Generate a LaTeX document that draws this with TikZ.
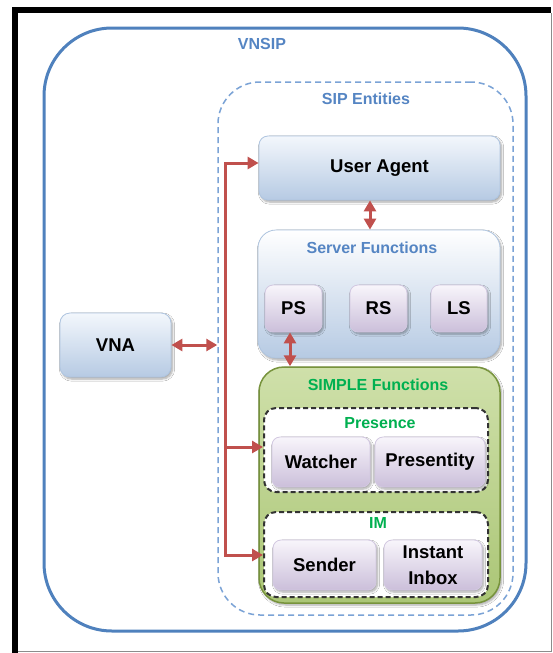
\documentclass[tikz,border=0pt]{standalone}
\usepackage{fontspec}
\setmainfont{Liberation Sans}
\usetikzlibrary{arrows.meta,shadows,shadows.blur}

\definecolor{frameblue}{HTML}{4F81BD}
\definecolor{dashblue}{HTML}{7BA3D6}
\definecolor{labelblue}{HTML}{5585C3}
\definecolor{labelgreen}{HTML}{00B050}
\definecolor{bluetop}{HTML}{F3F7FC}
\definecolor{bluebot}{HTML}{B6CAE3}
\definecolor{blueedge}{HTML}{AFC5E0}
\definecolor{lavtop}{HTML}{F8F5FB}
\definecolor{lavbot}{HTML}{CBBFDA}
\definecolor{lavedge}{HTML}{D2C8E1}
\definecolor{greentop}{HTML}{CFE0AA}
\definecolor{greenmid}{HTML}{9BBB59}
\definecolor{greenbot}{HTML}{ABC676}
\definecolor{greenedge}{HTML}{77933C}
\definecolor{linkred}{HTML}{C0504D}

\begin{document}
\begin{tikzpicture}[x=1pt,y=-1pt,
  >={Triangle[length=11pt,width=12pt]},
  nodefont/.style={font=\bfseries\fontsize{18.5}{26}\selectfont},
  softshadow/.style={blur shadow={shadow xshift=1.5pt,shadow yshift=-2pt,shadow blur steps=6,shadow opacity=35}},
  bluebox/.style={draw=blueedge,line width=0.8pt,rounded corners=9pt,top color=bluetop,bottom color=bluebot,softshadow,nodefont,inner sep=0pt},
  lavbox/.style={draw=lavedge,line width=0.8pt,rounded corners=8pt,top color=lavtop,bottom color=lavbot,softshadow,nodefont,inner sep=0pt,align=center},
  groupbox/.style={draw=black!80,dashed,dash pattern=on 5pt off 3pt,line width=2pt,rounded corners=12pt,fill=white,inner sep=0pt},
  bluelabel/.style={text=labelblue,font=\bfseries\fontsize{16}{18}\selectfont,inner sep=0pt},
  greenlabel/.style={text=labelgreen,font=\bfseries\fontsize{16}{18}\selectfont,inner sep=0pt},
  link/.style={draw=linkred,line width=3pt}
]
\useasboundingbox (0,0) rectangle (552,653);
\fill[white] (0,0) rectangle (552,653);

% window frame
\fill[black] (12,7) rectangle (551,13);
\fill[black] (12,7) rectangle (18,653);
\draw[black!45,line width=1pt] (551,13) -- (551,651) -- (18,651);

% outer domain and SIP entities container
\node[draw=frameblue,line width=3pt,rounded corners=68pt,minimum width=482pt,minimum height=603pt,inner sep=0pt] (vnsip) at (285,329.5) {};
\node[bluelabel] (vnsipLbl) at (262,44) {VNSIP};
\node[draw=dashblue,dashed,dash pattern=on 6pt off 4pt,line width=1.5pt,rounded corners=42pt,minimum width=295pt,minimum height=533pt,inner sep=0pt] (sip) at (365.5,348.5) {};
\node[bluelabel] (sipLbl) at (366,99) {SIP Entities};

% user agent
\node[bluebox,minimum width=241pt,minimum height=64pt] (ua) at (379.5,168) {User Agent};

% server functions
\node[bluebox,rounded corners=18pt,top color=white,bottom color=bluebot,minimum width=242pt,minimum height=128pt] (sf) at (379,294) {};
\node[bluelabel] (sfLbl) at (372,248) {Server Functions};
\node[lavbox,minimum width=57pt,minimum height=47pt] (ps) at (293.5,308.5) {PS};
\node[lavbox,minimum width=57pt,minimum height=47pt] (rs) at (378.5,308.5) {RS};
\node[lavbox,minimum width=56pt,minimum height=47pt] (ls) at (459,308.5) {LS};

% SIMPLE functions
\node[draw=greenedge,line width=1.5pt,rounded corners=25pt,top color=greentop,middle color=greenmid,bottom color=greenbot,softshadow,minimum width=241pt,minimum height=236pt,inner sep=0pt] (simple) at (379.5,485) {};
\node[greenlabel] (simpleLbl) at (378,385) {SIMPLE Functions};

\node[groupbox,minimum width=224pt,minimum height=84pt] (pres) at (376,450) {};
\node[greenlabel] (presLbl) at (380,423) {Presence};
\node[lavbox,minimum width=98pt,minimum height=50pt] (watcher) at (321,462) {Watcher};
\node[lavbox,minimum width=110pt,minimum height=50pt] (presentity) at (430,462) {Presentity};

\node[groupbox,minimum width=224pt,minimum height=85pt] (im) at (376,554.5) {};
\node[greenlabel] (imLbl) at (378,523) {IM};
\node[lavbox,minimum width=103pt,minimum height=50pt] (sender) at (324.5,565) {Sender};
\node[lavbox,minimum width=98pt,minimum height=50pt] (inbox) at (433,565) {Instant\\Inbox};

% VNA
\node[bluebox,rounded corners=10pt,minimum width=111pt,minimum height=64pt] (vna) at (115.5,345) {VNA};

% connectors
\coordinate (busTop) at (225,163);
\coordinate (busMid) at (225,447);
\coordinate (busBot) at (225,555);
\coordinate (uaLink) at (370,0);
\coordinate (psLink) at (290,0);

\draw[link,<->] (vna.east) -- (vna.east -| sip.west);
\draw[link,->] (busBot) -- (busTop) -- (busTop -| ua.west);
\draw[link,->] (busTop) -- (busBot) -- (busBot -| im.west);
\draw[link,->] (busMid) -- (busMid -| pres.west);
\draw[link,<->] (ua.south -| uaLink) -- (sf.north -| uaLink);
\draw[link,<->] (ps.south -| psLink) -- (simple.north -| psLink);
\end{tikzpicture}
\end{document}
